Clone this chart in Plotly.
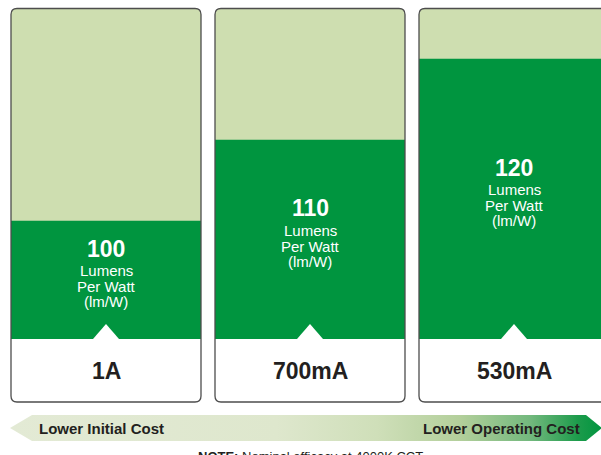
import plotly.graph_objects as go

# ---- data ----
categories = ["1A", "700mA", "530mA"]
efficacy = [100, 110, 120]
unit_lines = ["Lumens", "Per Watt", "(lm/W)"]
cost_left = "Lower Initial Cost"
cost_right = "Lower Operating Cost"
note_bold = "NOTE:"
note_text = "Nominal efficacy at 4000K CCT"

# ---- layout constants (screen pixels) ----
WIN_W, WIN_H = 601, 455
PX_PER_UNIT = 8.1           # vertical pixels per lm/W
BASE = 85.4                 # lm/W value at the bottom of the green area
BASE_PX = 339
SLOT_PX = 204
FIRST_PX = 106
PANEL_W_PX = 190
PANEL_TOP_PX = 8.5
PANEL_BOT_PX = 402
RADIUS_PX = 6
NOTCH_H_PX = 15
NOTCH_HALF_PX = 13
ARROW_TOP_PX, ARROW_MID_PX, ARROW_BOT_PX = 415, 428, 441
ARROW_L_TIP, ARROW_L_HEAD, ARROW_R_HEAD, ARROW_R_TIP = 10, 32, 586, 602

GREEN = "#00953F"
LIGHT = "#CEDEB0"
BORDER = "#4D4D4D"
TEXT = "#231F20"
FONT = "Liberation Sans, Arial, sans-serif"


def py(p):
    return BASE + (BASE_PX - p) / PX_PER_UNIT


def px(p):
    return (p - FIRST_PX) / SLOT_PX


X0, X1 = px(0), px(WIN_W)
Y0, Y1 = py(WIN_H), py(0)
half = PANEL_W_PX / 2 / SLOT_PX
rx = RADIUS_PX / SLOT_PX
ry = RADIUS_PX / PX_PER_UNIT
TOP, BOT = py(PANEL_TOP_PX), py(PANEL_BOT_PX)


def rpath(x0, x1, y0, y1, rtop, rbot):
    p = f"M{x0},{y0 + (ry if rbot else 0)} L{x0},{y1 - (ry if rtop else 0)} "
    if rtop:
        p += f"Q{x0},{y1} {x0 + rx},{y1} L{x1 - rx},{y1} Q{x1},{y1} {x1},{y1 - ry} "
    else:
        p += f"L{x1},{y1} "
    p += f"L{x1},{y0 + (ry if rbot else 0)} "
    if rbot:
        p += f"Q{x1},{y0} {x1 - rx},{y0} L{x0 + rx},{y0} Q{x0},{y0} {x0},{y0 + ry} "
    else:
        p += f"L{x0},{y0} "
    return p + "Z"


idx = list(range(len(categories)))
fig = go.Figure()

fig.add_trace(go.Bar(
    x=idx, y=[v - BASE for v in efficacy], base=BASE,
    width=PANEL_W_PX / SLOT_PX,
    marker=dict(color=GREEN, line=dict(width=0)),
    hoverinfo="skip", showlegend=False,
))

# arrow with gradient
ax = [px(ARROW_L_TIP), px(ARROW_L_HEAD), px(ARROW_R_HEAD), px(ARROW_R_TIP),
      px(ARROW_R_HEAD), px(ARROW_L_HEAD), px(ARROW_L_TIP)]
ay = [py(ARROW_MID_PX), py(ARROW_TOP_PX), py(ARROW_TOP_PX), py(ARROW_MID_PX),
      py(ARROW_BOT_PX), py(ARROW_BOT_PX), py(ARROW_MID_PX)]
fig.add_trace(go.Scatter(
    x=ax, y=ay, mode="lines", fill="toself",
    line=dict(width=0, color="rgba(0,0,0,0)"),
    fillgradient=dict(type="horizontal", colorscale=[
        [0.0, "#E3EAD5"], [0.45, "#DEE7CD"], [0.62, "#CFDFB9"],
        [0.76, "#B3CF9B"], [0.88, "#72B87D"], [0.96, "#1C9B4B"], [1.0, "#00953F"]]),
    hoverinfo="skip", showlegend=False,
))

shapes = []
annotations = []
for i, (cat, v) in enumerate(zip(categories, efficacy)):
    x0, x1 = i - half, i + half
    shapes.append(dict(type="path", path=rpath(x0, x1, BASE, TOP, True, False),
                       fillcolor=LIGHT, line=dict(width=0), layer="below"))
    shapes.append(dict(type="path", path=rpath(x0, x1, BOT, BASE, False, True),
                       fillcolor="white", line=dict(width=0), layer="below"))
    nx = NOTCH_HALF_PX / SLOT_PX
    shapes.append(dict(type="path",
                       path=f"M{i - nx},{BASE} L{i},{BASE + NOTCH_H_PX / PX_PER_UNIT} L{i + nx},{BASE} Z",
                       fillcolor="white", line=dict(width=0), layer="above"))
    shapes.append(dict(type="path", path=rpath(x0, x1, BOT, TOP, True, True),
                       fillcolor="rgba(0,0,0,0)", line=dict(width=1.3, color=BORDER),
                       layer="above"))
    mid = (BASE + v) / 2
    annotations.append(dict(x=i, y=mid, yshift=31, text=f"<b>{v}</b>", showarrow=False,
                            font=dict(family=FONT, size=23, color="white"),
                            xanchor="center", yanchor="middle"))
    for line, sh in zip(unit_lines, [9, -7, -22]):
        annotations.append(dict(x=i, y=mid, yshift=sh, text=line, showarrow=False,
                                font=dict(family=FONT, size=15, color="white"),
                                xanchor="center", yanchor="middle"))
    annotations.append(dict(x=i, y=(BASE + BOT) / 2, text=f"<b>{cat}</b>", showarrow=False,
                            font=dict(family=FONT, size=23, color=TEXT),
                            xanchor="center", yanchor="middle"))

annotations.append(dict(x=px(37), y=py(ARROW_MID_PX), text=f"<b>{cost_left}</b>",
                        showarrow=False, xanchor="left", yanchor="middle",
                        font=dict(family=FONT, size=15, color=TEXT)))
annotations.append(dict(x=px(582), y=py(ARROW_MID_PX), text=f"<b>{cost_right}</b>",
                        showarrow=False, xanchor="right", yanchor="middle",
                        font=dict(family=FONT, size=15, color=TEXT)))
annotations.append(dict(x=1, y=py(447), text=f"<b>{note_bold}</b> {note_text}",
                        showarrow=False, xanchor="center", yanchor="top",
                        font=dict(family=FONT, size=13, color=TEXT)))

fig.update_layout(
    width=WIN_W, height=WIN_H, margin=dict(l=0, r=0, t=0, b=0),
    paper_bgcolor="white", plot_bgcolor="white",
    xaxis=dict(range=[X0, X1], visible=False, fixedrange=True),
    yaxis=dict(range=[Y0, Y1], visible=False, fixedrange=True),
    shapes=shapes, annotations=annotations, showlegend=False,
)

fig.write_html("out.html", config={"displayModeBar": False, "staticPlot": True},
               post_script="document.body.style.margin='0';document.body.style.overflow='hidden';")
